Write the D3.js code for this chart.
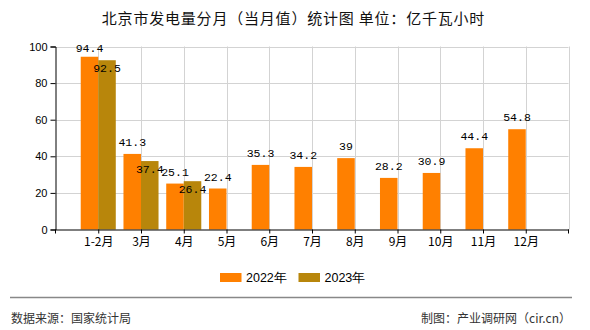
<!DOCTYPE html>
<html><head><meta charset="utf-8">
<script src="https://cdnjs.cloudflare.com/ajax/libs/d3/7.8.5/d3.min.js"></script>
<style>body{margin:0;background:#fff;} svg{display:block;}</style>
</head><body>
<svg id="c" width="590" height="330"></svg>
<script>
const categories = ["1-2月","3月","4月","5月","6月","7月","8月","9月","10月","11月","12月"];
const values2022 = [94.4,41.3,25.1,22.4,35.3,34.2,39,28.2,30.9,44.4,54.8];
const values2023 = [92.5,37.4,26.4];
const seriesNames = ["2022年","2023年"];
const yTicks = [0,20,40,60,80,100];
const colors = ["#FF8000","#B8860B"];

const svg = d3.select("#c");
const L=55.5, R=568.5, T=46.5, B=229.5;
const cjk = "'Noto Sans CJK SC','Noto Sans',sans-serif";

const x = d3.scalePoint().domain(categories).range([L,R]).padding(1);
const step = x.step();
const y = d3.scaleLinear().domain([0,100]).range([B,T]);
const bw = step*0.41;

// title
svg.append("text").attr("x",293.5).attr("y",17.5).attr("text-anchor","middle")
  .attr("dominant-baseline","central").style("font-family",cjk).style("font-size","15px")
  .style("letter-spacing","0.8px")
  .attr("fill","#111").text("北京市发电量分月（当月值）统计图 单位：亿千瓦小时");

// grid
const g = svg.append("g");
yTicks.filter(t=>t>0).forEach(t=>{
  g.append("line").attr("x1",L).attr("x2",R).attr("y1",Math.round(y(t))+0.5).attr("y2",Math.round(y(t))+0.5)
   .attr("stroke","#d3d3d3").attr("stroke-width",1);
});
const gridX = d3.range(1,13).map(i=>L+i*step);
gridX.forEach(px=>{
  g.append("line").attr("x1",Math.round(px)+0.5).attr("x2",Math.round(px)+0.5).attr("y1",T).attr("y2",B)
   .attr("stroke","#d3d3d3").attr("stroke-width",1);
});

// bars
const bars = svg.append("g");
bars.selectAll("rect.a").data(values2022).enter().append("rect")
  .attr("x",(d,i)=>x(categories[i])-bw).attr("width",bw)
  .attr("y",d=>y(d)).attr("height",d=>B-y(d)).attr("fill",colors[0]);
bars.selectAll("rect.b").data(values2023).enter().append("rect")
  .attr("x",(d,i)=>x(categories[i])).attr("width",bw)
  .attr("y",d=>y(d)).attr("height",d=>B-y(d)).attr("fill",colors[1]);

// value labels
const lf = "'Liberation Mono','DejaVu Sans Mono',monospace";
bars.selectAll("text.a").data(values2022).enter().append("text")
  .attr("x",(d,i)=>x(categories[i])-bw/2).attr("y",d=>Math.max(y(d)-8,52))
  .attr("text-anchor","middle").style("font-family",lf).style("font-size","11.5px").attr("fill","#000")
  .text(d=>d);
bars.selectAll("text.b").data(values2023).enter().append("text")
  .attr("x",(d,i)=>x(categories[i])+bw/2).attr("y",d=>y(d)+12)
  .attr("text-anchor","middle").style("font-family",lf).style("font-size","11.5px").attr("fill","#000")
  .text(d=>d);

// y axis
const ya = svg.append("g").attr("transform",`translate(${L},0)`)
  .call(d3.axisLeft(y).tickValues(yTicks).tickSize(5).tickPadding(3));
ya.select(".domain").attr("stroke","#000");
ya.selectAll(".tick line").attr("stroke","#000");
ya.selectAll("text").style("font-family","'Liberation Sans',Arial,sans-serif").style("font-size","11px").attr("fill","#000");

// x axis
const xa = svg.append("g").attr("transform",`translate(0,${B})`)
  .call(d3.axisBottom(x).tickSize(4).tickPadding(4).tickSizeOuter(0));
xa.select(".domain").attr("stroke","#000").attr("stroke-width",1.2);
xa.selectAll(".tick line").attr("stroke","#000");
xa.selectAll("text").style("font-family",cjk).style("font-size","12px").attr("fill","#000");
[L, R].forEach(px=>{
  xa.append("line").attr("x1",px).attr("x2",px).attr("y1",0).attr("y2",4).attr("stroke","#000");
});

// legend
const leg = svg.append("g");
const lx = [220, 298.5];
seriesNames.forEach((n,i)=>{
  leg.append("rect").attr("x",lx[i]).attr("y",273).attr("width",21.5).attr("height",9).attr("fill",colors[i]);
  leg.append("text").attr("x",lx[i]+26).attr("y",277.5).attr("dominant-baseline","central")
    .style("font-family","'Liberation Sans',Arial,sans-serif").style("font-size","12.5px").attr("fill","#000").text(n);
});

// footer
svg.append("line").attr("x1",10).attr("x2",572).attr("y1",297.5).attr("y2",297.5).attr("stroke","#888").attr("stroke-width",1.5);
svg.append("text").attr("x",11).attr("y",317).attr("dominant-baseline","central")
  .style("font-family",cjk).style("font-size","12px").attr("fill","#333").text("数据来源：国家统计局");
svg.append("text").attr("x",571).attr("y",317).attr("dominant-baseline","central").attr("text-anchor","end")
  .style("font-family",cjk).style("font-size","12px").attr("fill","#333").text("制图：产业调研网（cir.cn）");
</script>
</body></html>
